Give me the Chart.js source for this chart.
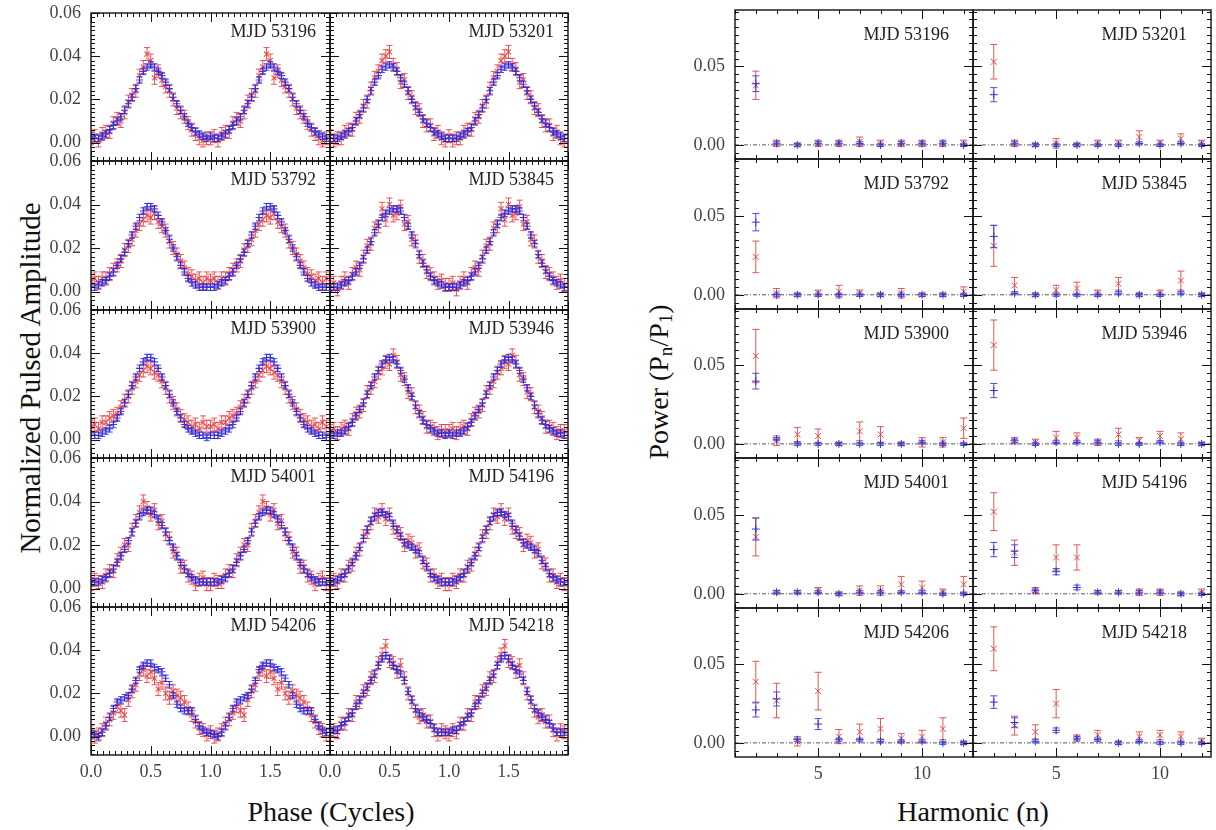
<!DOCTYPE html>
<html>
<head>
<meta charset="utf-8">
<script src="https://cdn.jsdelivr.net/npm/chart.js@4.4.0/dist/chart.umd.min.js"></script>
<style>
  body { margin: 0; background: #fff; }
  #wrap { position: relative; width: 1216px; height: 830px; overflow: hidden; font-family: "Liberation Serif", "DejaVu Serif", serif; }
  #wrap canvas { position: absolute; }
  .title { position: absolute; font-size: 28px; color: #111; white-space: nowrap; transform: translate(-50%, -50%); }
  .rot { transform: translate(-50%, -50%) rotate(-90deg); }
  .title sub { font-size: 0.68em; vertical-align: -0.25em; }
</style>
</head>
<body>
<div id="wrap">
  <div class="title" style="left:331px; top:812px;">Phase (Cycles)</div>
  <div class="title" style="left:973px; top:812px;">Harmonic (n)</div>
  <div class="title rot" style="left:30px; top:378px; font-size:29px;">Normalized Pulsed Amplitude</div>
  <div class="title rot" style="left:660px; top:382px;">Power (P<sub>n</sub>/P<sub>1</sub>)</div>
</div>
<script>
// Etiquetas de paneles y ejes
const mjdLabels = ['MJD 53196', 'MJD 53201', 'MJD 53792', 'MJD 53845', 'MJD 53900',
                   'MJD 53946', 'MJD 54001', 'MJD 54196', 'MJD 54206', 'MJD 54218'];
const phaseTicks = [0, 0.5, 1.0, 1.5];
const ampTicks = [0, 0.02, 0.04, 0.06];
const harmonicTicks = [5, 10];
const powerTicks = [0, 0.05];
const harmonics = [2, 3, 4, 5, 6, 7, 8, 9, 10, 11, 12];

// Perfiles de pulso (un ciclo, 32 bins; se dibuja dos veces)
const profRedErr = 0.003;
const profBlueErr = 0.0015;

const profBlue53196 = [0.003,0.002,0.002,0.003,0.004,0.006,0.008,0.010, 0.012,0.015,0.018,0.021,0.025,0.029,0.033,0.035, 0.036,0.035,0.033,0.031,0.028,0.025,0.021,0.018, 0.015,0.012,0.009,0.007,0.005,0.004,0.003,0.002];
const profRed53196  = [0.002,0.003,0.001,0.004,0.005,0.005,0.009,0.011, 0.010,0.014,0.019,0.022,0.024,0.031,0.035,0.041, 0.038,0.030,0.033,0.029,0.026,0.024,0.020,0.016, 0.014,0.012,0.009,0.006,0.004,0.002,0.001,0.002];
const profBlue53201 = [0.002,0.002,0.002,0.003,0.004,0.005,0.007,0.010, 0.013,0.016,0.020,0.024,0.028,0.031,0.034,0.035, 0.036,0.035,0.033,0.030,0.027,0.024,0.020,0.017, 0.014,0.011,0.009,0.007,0.005,0.004,0.003,0.002];
const profRed53201  = [0.003,0.001,0.002,0.002,0.005,0.006,0.006,0.011, 0.012,0.017,0.019,0.025,0.030,0.033,0.038,0.040, 0.042,0.036,0.034,0.028,0.029,0.023,0.021,0.016, 0.015,0.010,0.008,0.008,0.004,0.005,0.002,0.001];
const profBlue53792 = [0.002,0.002,0.003,0.004,0.005,0.007,0.009,0.012, 0.015,0.018,0.022,0.026,0.030,0.034,0.037,0.039, 0.039,0.038,0.035,0.032,0.028,0.024,0.020,0.016, 0.012,0.009,0.006,0.004,0.003,0.002,0.002,0.002];
const profRed53792  = [0.005,0.006,0.004,0.006,0.006,0.008,0.010,0.012, 0.014,0.019,0.021,0.024,0.028,0.031,0.033,0.035, 0.034,0.036,0.032,0.030,0.028,0.023,0.020,0.017, 0.014,0.011,0.008,0.007,0.005,0.006,0.004,0.006];
const profBlue53845 = [0.002,0.002,0.002,0.003,0.004,0.005,0.007,0.009, 0.012,0.015,0.019,0.023,0.027,0.031,0.034,0.036, 0.037,0.038,0.038,0.037,0.034,0.030,0.026,0.022, 0.017,0.013,0.010,0.007,0.005,0.004,0.003,0.002];
const profRed53845  = [0.003,0.004,0.001,0.004,0.006,0.004,0.008,0.011, 0.010,0.016,0.021,0.022,0.029,0.030,0.038,0.033, 0.040,0.035,0.036,0.039,0.031,0.032,0.024,0.023, 0.016,0.014,0.009,0.008,0.006,0.004,0.005,0.003];
const profBlue53900 = [0.002,0.002,0.002,0.003,0.004,0.005,0.007,0.010, 0.013,0.017,0.021,0.025,0.029,0.033,0.036,0.038, 0.038,0.036,0.033,0.029,0.025,0.021,0.017,0.013, 0.010,0.007,0.005,0.004,0.003,0.002,0.002,0.001];
const profRed53900  = [0.006,0.007,0.005,0.008,0.008,0.010,0.011,0.012, 0.015,0.018,0.020,0.024,0.027,0.030,0.032,0.034, 0.033,0.031,0.030,0.027,0.024,0.020,0.017,0.014, 0.011,0.009,0.008,0.006,0.007,0.005,0.008,0.006];
const profBlue53946 = [0.003,0.002,0.003,0.003,0.004,0.006,0.008,0.011, 0.014,0.017,0.021,0.025,0.029,0.032,0.035,0.037, 0.038,0.037,0.035,0.032,0.028,0.024,0.020,0.016, 0.012,0.009,0.007,0.005,0.004,0.003,0.003,0.002];
const profRed53946  = [0.004,0.005,0.003,0.005,0.006,0.005,0.009,0.012, 0.013,0.016,0.022,0.024,0.027,0.031,0.033,0.036, 0.035,0.039,0.036,0.030,0.028,0.022,0.021,0.015, 0.013,0.010,0.006,0.006,0.005,0.003,0.004,0.004];
const profBlue54001 = [0.003,0.003,0.003,0.004,0.005,0.007,0.009,0.012, 0.015,0.018,0.022,0.026,0.030,0.033,0.035,0.036, 0.036,0.034,0.032,0.029,0.026,0.022,0.019,0.015, 0.012,0.009,0.007,0.005,0.004,0.003,0.003,0.003];
const profRed54001  = [0.002,0.004,0.003,0.003,0.006,0.008,0.008,0.013, 0.016,0.020,0.020,0.027,0.031,0.035,0.040,0.037, 0.034,0.036,0.030,0.031,0.025,0.023,0.017,0.016, 0.010,0.010,0.006,0.005,0.002,0.004,0.005,0.002];
const profBlue54196 = [0.003,0.003,0.004,0.005,0.007,0.009,0.012,0.015, 0.019,0.023,0.027,0.031,0.033,0.035,0.035,0.034, 0.033,0.030,0.027,0.024,0.021,0.020,0.019,0.018, 0.016,0.013,0.010,0.007,0.005,0.004,0.003,0.003];
const profRed54196  = [0.002,0.004,0.003,0.006,0.006,0.010,0.011,0.016, 0.018,0.024,0.026,0.030,0.034,0.033,0.036,0.032, 0.034,0.028,0.026,0.025,0.020,0.022,0.021,0.017, 0.018,0.012,0.011,0.006,0.006,0.003,0.004,0.002];
const profBlue54206 = [0.0015,0.001,0.000,0.002,0.005,0.009,0.013,0.016, 0.017,0.018,0.019,0.022,0.026,0.031,0.033,0.034, 0.034,0.032,0.031,0.030,0.027,0.024,0.019,0.015, 0.013,0.012,0.012,0.012,0.008,0.005,0.003,0.002];
const profRed54206  = [0.002,0.000,0.001,0.003,0.006,0.008,0.011,0.014, 0.012,0.010,0.017,0.021,0.024,0.029,0.031,0.028, 0.030,0.027,0.022,0.025,0.020,0.018,0.021,0.019, 0.018,0.016,0.013,0.010,0.007,0.004,0.003,0.001];
const profBlue54218 = [0.002,0.003,0.003,0.005,0.007,0.009,0.011,0.014, 0.017,0.020,0.023,0.026,0.029,0.033,0.036,0.0375, 0.036,0.033,0.031,0.029,0.026,0.021,0.017,0.013, 0.011,0.009,0.008,0.006,0.004,0.002,0.002,0.002];
const profRed54218  = [0.001,0.003,0.002,0.006,0.006,0.010,0.010,0.016, 0.016,0.021,0.022,0.027,0.028,0.034,0.038,0.042, 0.035,0.034,0.030,0.033,0.027,0.020,0.016,0.012, 0.009,0.010,0.007,0.007,0.003,0.001,0.003,0.002];

// Potencia de armónicos n = 2..12 (valor y error)
const powRed53196     = [0.038,0.001,0.000,0.001,0.001,0.002,0.001,0.001,0.001,0.001,0.001];
const powRedErr53196  = [0.009,0.002,0.001,0.002,0.002,0.003,0.002,0.002,0.002,0.002,0.002];
const powBlue53196    = [0.039,0.001,0.000,0.001,0.001,0.001,0.000,0.001,0.001,0.001,0.000];
const powBlueErr53196 = [0.005,0.001,0.001,0.001,0.001,0.001,0.001,0.001,0.001,0.001,0.001];
const powRed53201     = [0.053,0.001,0.000,0.001,0.000,0.001,0.001,0.005,0.001,0.004,0.001];
const powRedErr53201  = [0.011,0.002,0.001,0.003,0.001,0.002,0.002,0.004,0.002,0.003,0.002];
const powBlue53201    = [0.032,0.001,0.000,0.000,0.000,0.000,0.000,0.001,0.000,0.001,0.000];
const powBlueErr53201 = [0.0045,0.001,0.001,0.001,0.001,0.001,0.001,0.001,0.001,0.001,0.001];
const powRed53792     = [0.024,0.001,0.000,0.001,0.002,0.001,0.000,0.001,0.000,0.000,0.002];
const powRedErr53792  = [0.010,0.003,0.001,0.002,0.004,0.002,0.001,0.003,0.001,0.001,0.003];
const powBlue53792    = [0.046,0.000,0.000,0.000,0.000,0.000,0.000,0.000,0.000,0.000,0.000];
const powBlueErr53792 = [0.0055,0.001,0.001,0.001,0.001,0.001,0.001,0.001,0.001,0.001,0.001];
const powRed53845     = [0.031,0.006,0.000,0.003,0.004,0.001,0.007,0.000,0.001,0.009,0.000];
const powRedErr53845  = [0.013,0.005,0.001,0.003,0.004,0.002,0.004,0.001,0.002,0.006,0.001];
const powBlue53845    = [0.037,0.001,0.000,0.000,0.000,0.000,0.001,0.000,0.000,0.001,0.000];
const powBlueErr53845 = [0.007,0.001,0.001,0.001,0.001,0.001,0.001,0.001,0.001,0.001,0.001];
const powRed53900     = [0.056,0.002,0.006,0.005,0.000,0.008,0.006,0.000,0.001,0.001,0.010];
const powRedErr53900  = [0.017,0.003,0.0045,0.0045,0.001,0.006,0.005,0.001,0.003,0.003,0.0065];
const powBlue53900    = [0.040,0.003,0.000,0.000,0.000,0.000,0.000,0.000,0.001,0.000,0.000];
const powBlueErr53900 = [0.005,0.001,0.001,0.001,0.001,0.001,0.001,0.001,0.001,0.001,0.001];
const powRed53946     = [0.063,0.002,0.001,0.004,0.004,0.001,0.006,0.002,0.005,0.003,0.000];
const powRedErr53946  = [0.016,0.002,0.002,0.004,0.003,0.002,0.004,0.002,0.003,0.004,0.001];
const powBlue53946    = [0.034,0.002,0.000,0.001,0.001,0.001,0.000,0.000,0.001,0.000,0.000];
const powBlueErr53946 = [0.0045,0.001,0.001,0.001,0.001,0.001,0.001,0.001,0.001,0.001,0.001];
const powRed54001     = [0.036,0.001,0.001,0.002,0.000,0.002,0.002,0.006,0.004,0.001,0.006];
const powRedErr54001  = [0.012,0.001,0.001,0.002,0.001,0.003,0.003,0.005,0.004,0.002,0.005];
const powBlue54001    = [0.041,0.001,0.001,0.001,0.000,0.001,0.001,0.001,0.001,0.000,0.000];
const powBlueErr54001 = [0.007,0.001,0.001,0.001,0.001,0.001,0.001,0.001,0.001,0.001,0.001];
const powRed54196     = [0.052,0.026,0.002,0.023,0.023,0.001,0.001,0.001,0.001,0.000,0.001];
const powRedErr54196  = [0.012,0.008,0.002,0.008,0.008,0.001,0.001,0.002,0.002,0.001,0.002];
const powBlue54196    = [0.028,0.027,0.002,0.014,0.004,0.001,0.001,0.001,0.001,0.000,0.000];
const powBlueErr54196 = [0.0045,0.004,0.001,0.002,0.0015,0.001,0.001,0.001,0.001,0.001,0.001];
const powRed54206     = [0.039,0.027,0.001,0.033,0.004,0.007,0.009,0.003,0.004,0.009,0.000];
const powRedErr54206  = [0.013,0.011,0.003,0.012,0.0045,0.005,0.0065,0.003,0.004,0.007,0.001];
const powBlue54206    = [0.021,0.028,0.002,0.012,0.002,0.002,0.001,0.001,0.001,0.000,0.000];
const powBlueErr54206 = [0.0045,0.0045,0.001,0.0035,0.001,0.001,0.001,0.001,0.001,0.001,0.001];
const powRed54218     = [0.060,0.011,0.007,0.025,0.003,0.005,0.000,0.004,0.005,0.004,0.001];
const powRedErr54218  = [0.014,0.006,0.0045,0.009,0.002,0.003,0.001,0.003,0.003,0.003,0.002];
const powBlue54218    = [0.026,0.013,0.001,0.008,0.003,0.002,0.000,0.001,0.000,0.000,0.000];
const powBlueErr54218 = [0.004,0.003,0.001,0.0015,0.001,0.001,0.001,0.001,0.001,0.001,0.001];

const profiles = [
    [profRed53196, profBlue53196], [profRed53201, profBlue53201],
    [profRed53792, profBlue53792], [profRed53845, profBlue53845],
    [profRed53900, profBlue53900], [profRed53946, profBlue53946],
    [profRed54001, profBlue54001], [profRed54196, profBlue54196],
    [profRed54206, profBlue54206], [profRed54218, profBlue54218]
];
const powers = [
    [powRed53196, powRedErr53196, powBlue53196, powBlueErr53196],
    [powRed53201, powRedErr53201, powBlue53201, powBlueErr53201],
    [powRed53792, powRedErr53792, powBlue53792, powBlueErr53792],
    [powRed53845, powRedErr53845, powBlue53845, powBlueErr53845],
    [powRed53900, powRedErr53900, powBlue53900, powBlueErr53900],
    [powRed53946, powRedErr53946, powBlue53946, powBlueErr53946],
    [powRed54001, powRedErr54001, powBlue54001, powBlueErr54001],
    [powRed54196, powRedErr54196, powBlue54196, powBlueErr54196],
    [powRed54206, powRedErr54206, powBlue54206, powBlueErr54206],
    [powRed54218, powRedErr54218, powBlue54218, powBlueErr54218]
];

// Geometría de las dos rejillas
const LEFT = { x0: 91, y0: 13, w: 238.5, h: 148.4 };
const RIGHT = { x0: 735, y0: 10, w: 238, h: 149.4 };
const PAD = { l: 64, t: 12, r: 12, b: 34 };
const FONT = "'Liberation Serif', 'DejaVu Serif', serif";
const RED = 'rgba(232, 55, 55, 0.85)';
const BLUE = 'rgba(40, 40, 225, 0.85)';

// Marco con marcas hacia dentro, etiquetas de ticks y etiqueta MJD
const framePlugin = {
    id: 'frame',
    afterDraw(chart, args, o) {
        const { ctx, chartArea: a, scales: { x, y } } = chart;
        ctx.save();
        ctx.strokeStyle = '#111';
        ctx.lineWidth = 1;
        ctx.beginPath();
        const isMajor = (list, v) => list.some(m => Math.abs(m - v) < 1e-9);
        for (let k = Math.ceil(x.min / o.xStep - 1e-9); k * o.xStep <= x.max + 1e-9; k++) {
            const v = k * o.xStep;
            const len = isMajor(o.xMajor, v) ? o.major : o.minor;
            const px = Math.round(x.getPixelForValue(v)) + 0.5;
            ctx.moveTo(px, a.top); ctx.lineTo(px, a.top + len);
            ctx.moveTo(px, a.bottom); ctx.lineTo(px, a.bottom - len);
        }
        for (let k = Math.ceil(y.min / o.yStep - 1e-9); k * o.yStep <= y.max + 1e-9; k++) {
            const v = k * o.yStep;
            const len = isMajor(o.yMajor, v) ? o.major : o.minor;
            const py = Math.round(y.getPixelForValue(v)) + 0.5;
            ctx.moveTo(a.left, py); ctx.lineTo(a.left + len, py);
            ctx.moveTo(a.right, py); ctx.lineTo(a.right - len, py);
        }
        ctx.stroke();
        ctx.lineWidth = 1.4;
        ctx.strokeRect(a.left, a.top, a.right - a.left, a.bottom - a.top);

        // Etiquetas de los ticks desde las escalas de Chart.js
        ctx.font = '18px ' + FONT;
        ctx.fillStyle = '#444';
        if (o.showY) {
            ctx.textAlign = 'right';
            ctx.textBaseline = 'middle';
            y.ticks.forEach(t => ctx.fillText(t.value.toFixed(2), a.left - 10, y.getPixelForValue(t.value)));
        }
        if (o.showX) {
            ctx.textAlign = 'center';
            ctx.textBaseline = 'top';
            x.ticks.forEach(t => ctx.fillText(o.xFmt(t.value), x.getPixelForValue(t.value), a.bottom + 8));
        }

        ctx.fillStyle = '#222';
        ctx.textAlign = 'right';
        ctx.textBaseline = 'middle';
        ctx.fillText(o.label, a.right - o.labelDx, a.top + o.labelDy);
        ctx.restore();
    }
};

// Barras de error (se dibujan justo después de cada serie)
const errorPlugin = {
    id: 'errbars',
    afterDatasetDraw(chart, args) {
        const ds = chart.data.datasets[args.index];
        if (!ds.errors) return;
        const { ctx, chartArea: a, scales: { y } } = chart;
        ctx.save();
        ctx.beginPath();
        ctx.rect(a.left, a.top, a.right - a.left, a.bottom - a.top);
        ctx.clip();
        ctx.strokeStyle = ds.errColor;
        ctx.lineWidth = 1;
        ctx.beginPath();
        args.meta.data.forEach((pt, j) => {
            const v = ds.data[j].y, e = ds.errors[j], c = ds.capHalf;
            const yt = y.getPixelForValue(v + e), yb = y.getPixelForValue(v - e);
            ctx.moveTo(pt.x, yt); ctx.lineTo(pt.x, yb);
            ctx.moveTo(pt.x - c, yt); ctx.lineTo(pt.x + c, yt);
            ctx.moveTo(pt.x - c, yb); ctx.lineTo(pt.x + c, yb);
        });
        ctx.stroke();
        ctx.restore();
    }
};

const wrap = document.getElementById('wrap');

function makePanel(box, col, row, cfg) {
    const x0 = Math.round(box.x0 + col * box.w), x1 = Math.round(box.x0 + (col + 1) * box.w);
    const y0 = Math.round(box.y0 + row * box.h), y1 = Math.round(box.y0 + (row + 1) * box.h);
    const W = x1 - x0 + PAD.l + PAD.r, H = y1 - y0 + PAD.t + PAD.b;
    const cv = document.createElement('canvas');
    cv.width = W; cv.height = H;
    cv.style.left = (x0 - PAD.l) + 'px';
    cv.style.top = (y0 - PAD.t) + 'px';
    cv.style.width = W + 'px';
    cv.style.height = H + 'px';
    wrap.appendChild(cv);

    return new Chart(cv, {
        type: 'scatter',
        data: { datasets: cfg.datasets },
        options: {
            responsive: false,
            animation: false,
            events: [],
            layout: { padding: { left: 0, top: PAD.t, right: PAD.r, bottom: 0 } },
            plugins: { legend: { display: false }, tooltip: { enabled: false }, frame: cfg.frame },
            scales: {
                x: {
                    type: 'linear', min: cfg.xMin, max: cfg.xMax,
                    grid: { display: false }, border: { display: false },
                    afterFit: s => { s.height = PAD.b; },
                    afterBuildTicks: s => { s.ticks = cfg.xTicks.map(v => ({ value: v })); },
                    ticks: { display: false }
                },
                y: {
                    type: 'linear', min: cfg.yMin, max: cfg.yMax,
                    grid: { display: false }, border: { display: false },
                    afterFit: s => { s.width = PAD.l; },
                    afterBuildTicks: s => { s.ticks = cfg.yTicks.map(v => ({ value: v })); },
                    ticks: { display: false }
                }
            }
        },
        plugins: [errorPlugin, framePlugin]
    });
}

// Paneles de perfiles (izquierda)
profiles.forEach(([red, blue], i) => {
    const col = i % 2, row = Math.floor(i / 2);
    const toPts = arr => [0, 1].flatMap(c => arr.map((v, j) => ({ x: c + j / arr.length, y: v })));
    const redPts = toPts(red), bluePts = toPts(blue);
    makePanel(LEFT, col, row, {
        xMin: 0, xMax: 2, yMin: -0.0085, yMax: 0.06,
        xTicks: phaseTicks, yTicks: ampTicks,
        frame: { xStep: 0.05, xMajor: [0, 0.5, 1, 1.5, 2], yStep: 0.002, yMajor: ampTicks,
                 major: 9, minor: 4, label: mjdLabels[i], labelDx: 14, labelDy: 19,
                 showX: row === 4, showY: col === 0, xFmt: v => v.toFixed(1) },
        datasets: [
            { data: redPts, errors: redPts.map(() => profRedErr), errColor: RED, capHalf: 3,
              pointStyle: 'crossRot', pointRadius: 3.6, borderColor: RED, borderWidth: 1.1, order: 2 },
            { data: bluePts, errors: bluePts.map(() => profBlueErr), errColor: BLUE, capHalf: 3,
              pointStyle: 'cross', pointRadius: 3.6, borderColor: BLUE, borderWidth: 1.1, order: 1 }
        ]
    });
});

// Paneles de potencia de armónicos (derecha)
powers.forEach(([red, redErr, blue, blueErr], i) => {
    const col = i % 2, row = Math.floor(i / 2);
    const toPts = arr => arr.map((v, j) => ({ x: harmonics[j], y: v }));
    makePanel(RIGHT, col, row, {
        xMin: 1, xMax: 12.45, yMin: -0.009, yMax: 0.086,
        xTicks: harmonicTicks, yTicks: powerTicks,
        frame: { xStep: 1, xMajor: harmonicTicks, yStep: 0.005, yMajor: powerTicks,
                 major: 9, minor: 4, label: mjdLabels[i], labelDx: 24, labelDy: 25,
                 showX: row === 4, showY: col === 0, xFmt: v => String(v) },
        datasets: [
            { type: 'line', data: [{ x: 1, y: 0 }, { x: 12.45, y: 0 }], borderColor: '#556',
              borderWidth: 1, borderDash: [4, 2, 1, 2], pointRadius: 0, order: 3 },
            { data: toPts(red), errors: redErr, errColor: 'rgba(220, 70, 70, 0.9)', capHalf: 3.5,
              pointStyle: 'crossRot', pointRadius: 4.2, borderColor: 'rgba(225, 60, 60, 0.9)', borderWidth: 1, order: 2 },
            { data: toPts(blue), errors: blueErr, errColor: 'rgba(60, 60, 215, 0.9)', capHalf: 3.5,
              pointStyle: 'cross', pointRadius: 4, borderColor: 'rgba(40, 40, 200, 0.95)', borderWidth: 1, order: 1 }
        ]
    });
});
</script>
</body>
</html>
